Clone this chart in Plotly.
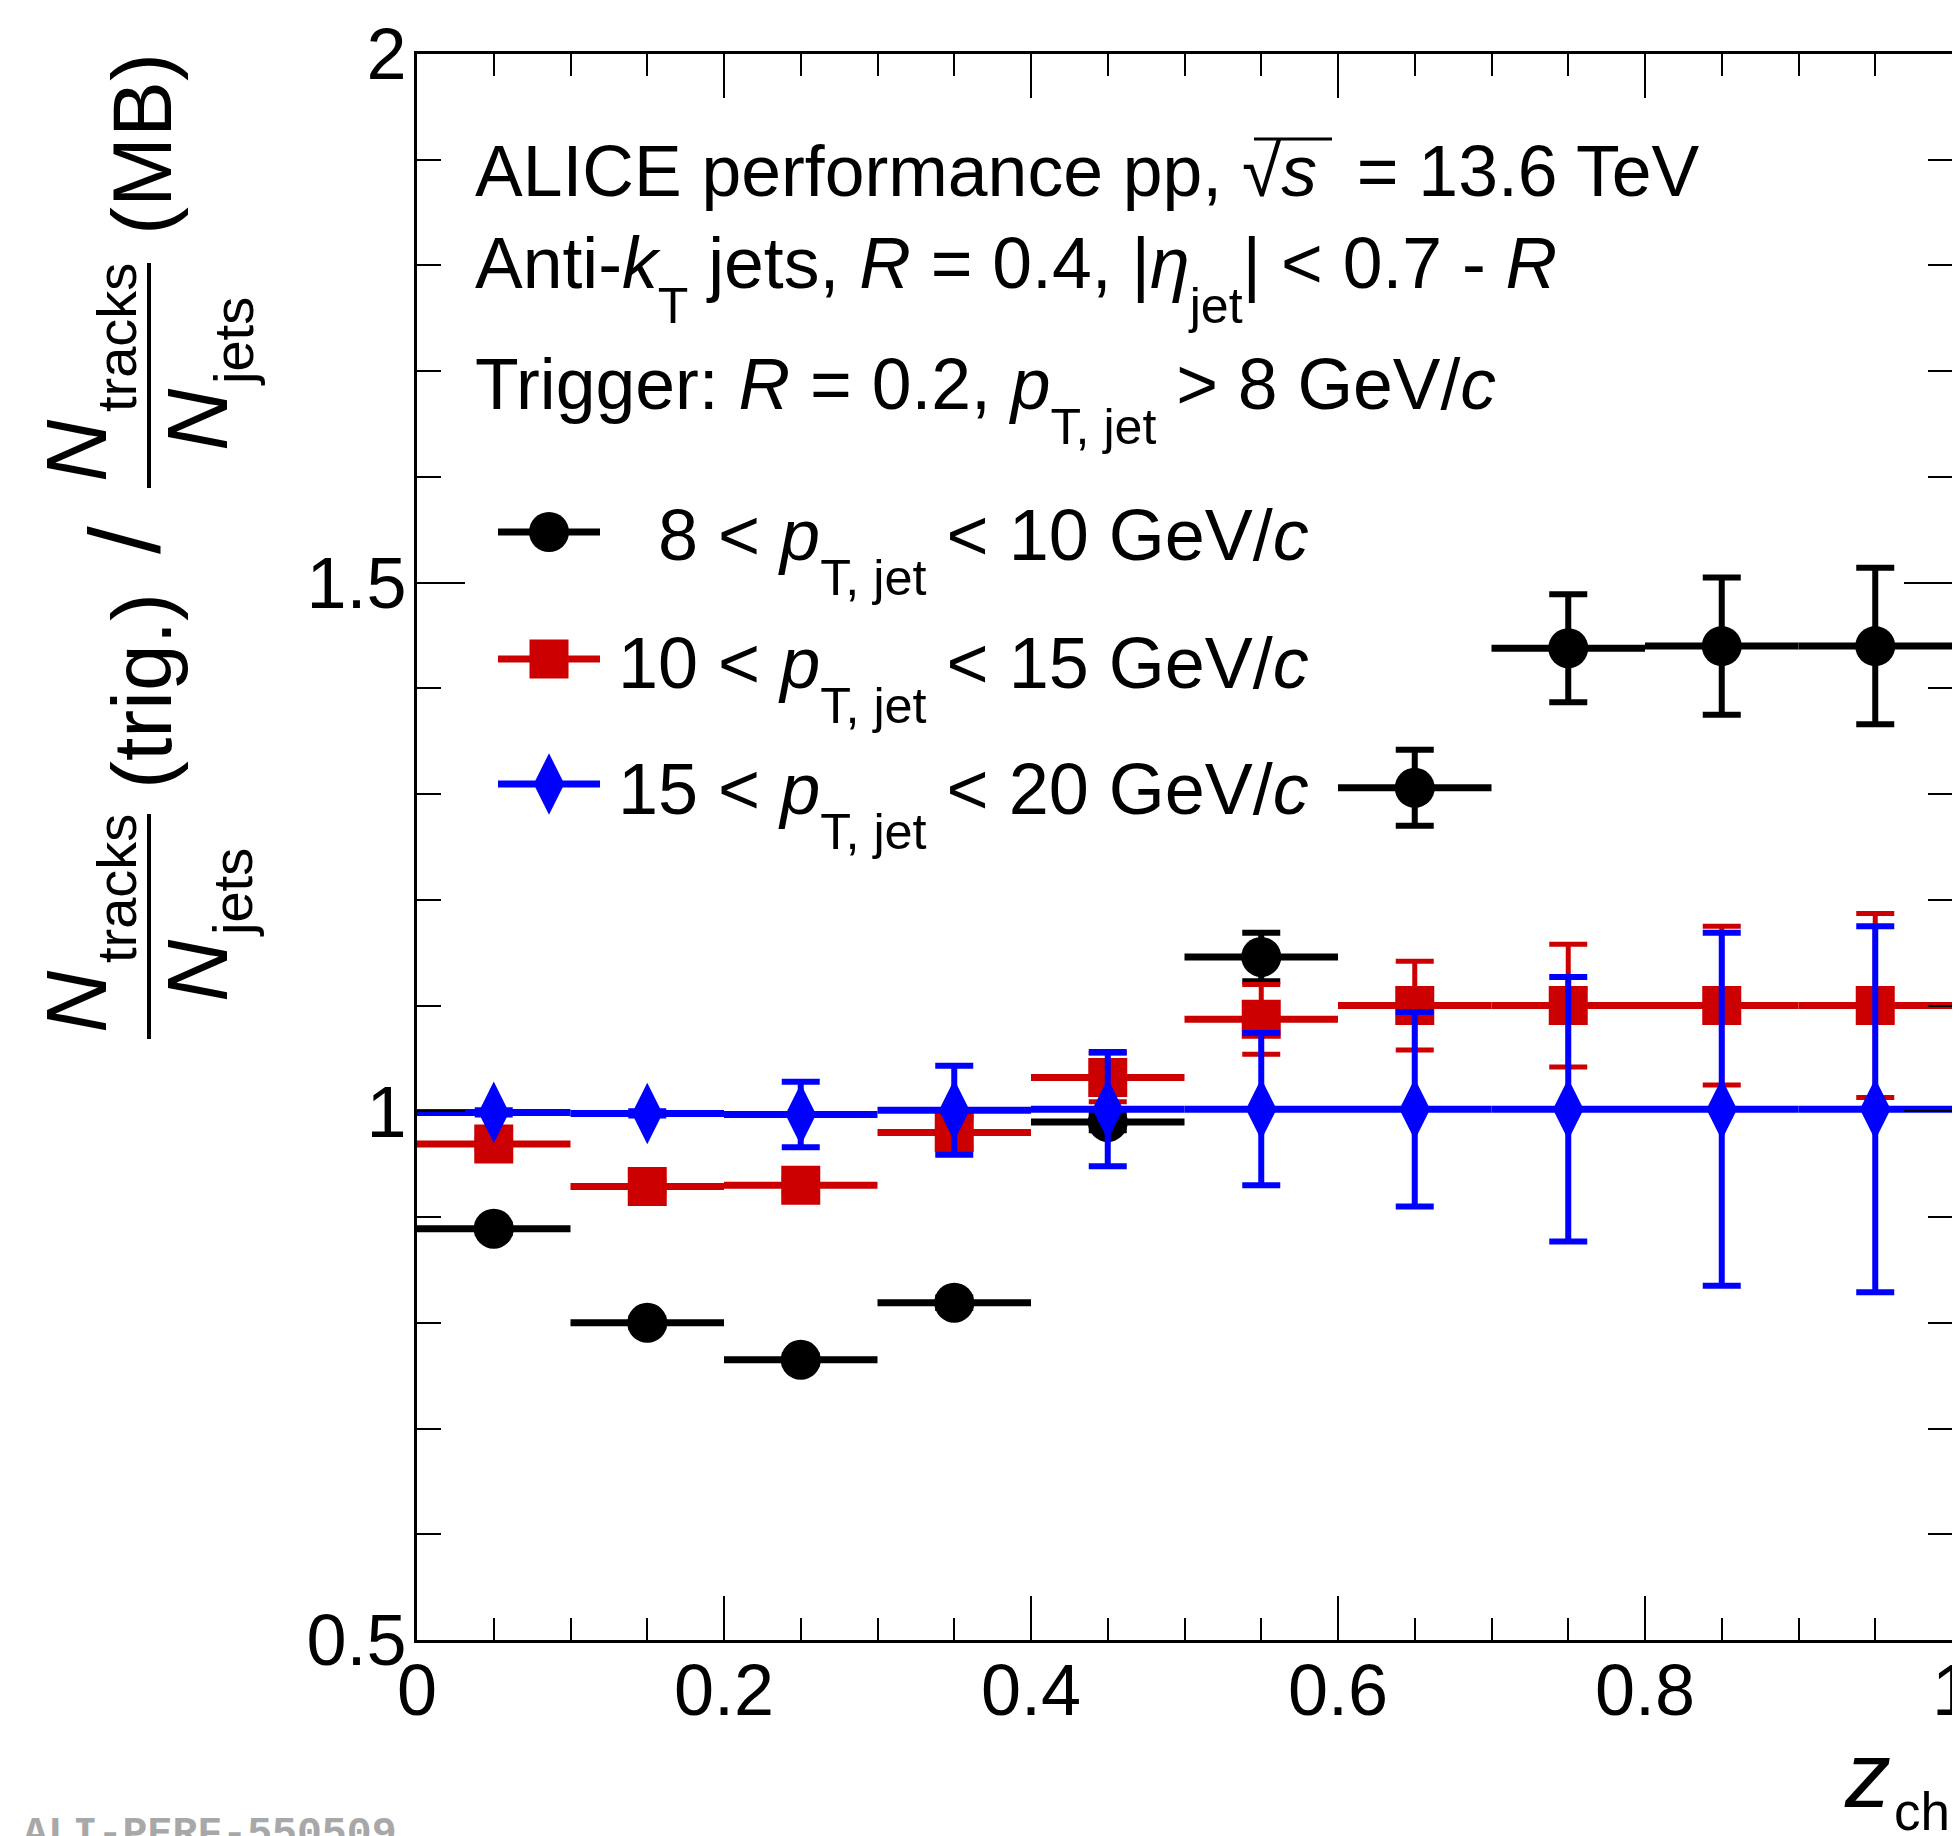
import plotly.graph_objects as go

# z_ch bins (centres and half widths)
z_center = [0.05, 0.15, 0.25, 0.35, 0.45, 0.55, 0.65, 0.75, 0.85, 0.95]
z_halfwidth = [0.05, 0.05, 0.05, 0.05, 0.05, 0.05, 0.05, 0.05, 0.05, 0.05]

# 8 < pT,jet < 10 GeV/c
ratio_8_10 = [0.889, 0.800, 0.765, 0.819, 0.990, 1.146, 1.306, 1.438, 1.440, 1.440]
err_8_10 = [0.004, 0.004, 0.004, 0.005, 0.008, 0.023, 0.036, 0.051, 0.065, 0.074]

# 10 < pT,jet < 15 GeV/c
ratio_10_15 = [0.969, 0.929, 0.930, 0.980, 1.032, 1.087, 1.100, 1.100, 1.100, 1.100]
err_10_15 = [0.005, 0.006, 0.007, 0.014, 0.023, 0.033, 0.042, 0.058, 0.075, 0.087]

# 15 < pT,jet < 20 GeV/c
ratio_15_20 = [0.999, 0.998, 0.997, 1.001, 1.002, 1.002, 1.002, 1.002, 1.002, 1.002]
err_15_20 = [0.002, 0.002, 0.031, 0.042, 0.054, 0.072, 0.092, 0.125, 0.167, 0.173]

x_ticks = [0, 0.2, 0.4, 0.6, 0.8, 1]
x_ticklabels = ['0', '0.2', '0.4', '0.6', '0.8', '1']
y_ticks = [0.5, 1, 1.5, 2]
y_ticklabels = ['0.5', '1', '1.5', '2']

series = [
    ('8 < ', ' < 10 GeV/', ratio_8_10, err_8_10, 'black', 'circle', 40, 6),
    ('10 < ', ' < 15 GeV/', ratio_10_15, err_10_15, '#cc0000', 'square', 39, 5),
    ('15 < ', ' < 20 GeV/', ratio_15_20, err_15_20, '#0000ff', 'diamond-tall', 44, 6),
]

# the page body adds an 8 px margin, so the figure is 8 px smaller and
# every layout position below is given in window pixels
PAGE = 8
W, H = 1960 - PAGE, 1836 - PAGE
L, R, T, B = 417 - PAGE, 8, 54 - PAGE, 196
PW, PH = W - L - R, H - T - B
FONT = 'Liberation Sans'


def px(x):
    return (x - PAGE - L) / PW


def py(y):
    return (H - B - (y - PAGE)) / PH


def sub(t):
    return f"<sub><span style='baseline-shift:-0.4em'>{t}</span></sub>"


fig = go.Figure()

for lo, hi, vals, errs, color, symbol, size, thick in series:
    fig.add_trace(go.Scatter(
        x=z_center, y=vals, mode='markers',
        marker=dict(symbol=symbol, size=size, color=color, line=dict(width=0)),
        error_x=dict(type='data', array=z_halfwidth, color=color,
                     thickness=7, width=0),
        error_y=dict(type='data', array=errs, color=color,
                     thickness=thick, width=19),
        showlegend=False, cliponaxis=False,
    ))

# hand-made legend keys on an overlay axis in [0, 1]
key_rows = [py(532), py(659), py(784)]
for (lo, hi, vals, errs, color, symbol, size, thick), ky in zip(series, key_rows):
    fig.add_trace(go.Scatter(
        x=[px(498), px(600)], y=[ky, ky], mode='lines',
        line=dict(color=color, width=7), xaxis='x2', yaxis='y2',
        showlegend=False, hoverinfo='skip',
    ))
    fig.add_trace(go.Scatter(
        x=[px(549)], y=[ky], mode='markers',
        marker=dict(symbol=symbol, size=size, color=color, line=dict(width=0)),
        xaxis='x2', yaxis='y2', showlegend=False, hoverinfo='skip',
    ))

annotations = []


def text(s, x, y, size, xanchor='left', yanchor='top', angle=0, color='black',
         family=FONT):
    annotations.append(dict(
        text=s, x=px(x), y=py(y), xref='paper', yref='paper',
        xanchor=xanchor, yanchor=yanchor, textangle=angle, showarrow=False,
        font=dict(family=family, size=size, color=color), borderpad=0,
    ))


# header lines (top = baseline - 0.905 * size)
text('ALICE performance pp, √<i>s</i>\u00a0\u00a0= 13.6 TeV', 474, 195 - 65, 71.5)
text('Anti-<i>k</i>' + sub('T') + ' jets, <i>R</i> = 0.4, |<i>η</i>' + sub('jet')
     + '| < 0.7 - <i>R</i>', 474, 287 - 65, 71.5)
text('Trigger: <i>R</i> = 0.2, <i>p</i>' + sub('T, jet') + ' > 8 GeV/<i>c</i>',
     474, 408 - 65, 71.5)

# legend labels
for (lo, hi, *_), base in zip(series, [559, 687, 813]):
    text(lo + '<i>p</i>' + sub('T, jet') + hi + '<i>c</i>', 1310, base - 65, 72,
         xanchor='right')

# y-axis title, built from rotated pieces
for c in (375, 926):
    text('<i>N</i>', 76, c + 76, 86, 'center', 'middle', -90)
    text('tracks', 116, c - 37, 56, 'center', 'middle', -90)
    text('<i>N</i>', 197, c + 45, 86, 'center', 'middle', -90)
    text('jets', 233, c - 33, 56, 'center', 'middle', -90)
text('(MB)', 142, 144, 84, 'center', 'middle', -90)
text('(trig.)', 142, 691, 84, 'center', 'middle', -90)
text('/', 125, 540, 100, 'center', 'middle', -90)

# x-axis title
text('<i>z</i>', 1843, 1806 - 83, 92)
text('ch', 1893, 1828 - 47, 53)

# watermark (cut by the bottom edge, as in the original)
text('<b>ALI-PERF-550509</b>', 22, 1809, 41.5, color='#a8a8a8',
     family='Liberation Mono')

shapes = [
    dict(type='line', xref='paper', yref='paper', x0=px(149), x1=px(149),
         y0=py(263), y1=py(488), line=dict(color='black', width=4)),
    dict(type='line', xref='paper', yref='paper', x0=px(149), x1=px(149),
         y0=py(814), y1=py(1039), line=dict(color='black', width=4)),
    # sqrt overline
    dict(type='line', xref='paper', yref='paper', x0=px(1254), x1=px(1332),
         y0=py(139), y1=py(139), line=dict(color='black', width=3)),
]

axis_common = dict(
    showline=True, linecolor='black', linewidth=3, mirror='ticks',
    ticks='inside', tickcolor='black', tickwidth=2, showgrid=False,
    zeroline=False, automargin=False, ticklabeloverflow='allow',
    tickfont=dict(family=FONT, size=72, color='black'),
)

fig.update_layout(
    width=W, height=H, autosize=False,
    margin=dict(l=L, r=R, t=T, b=B),
    paper_bgcolor='white', plot_bgcolor='white',
    xaxis=dict(range=[0, 1], tickvals=x_ticks, ticktext=x_ticklabels,
               ticklen=44, ticklabelstandoff=-14,
               minor=dict(dtick=0.05, tick0=0, ticklen=22, ticks='inside',
                          tickcolor='black', tickwidth=2),
               **axis_common),
    yaxis=dict(range=[0.5, 2], tickvals=y_ticks, ticktext=y_ticklabels,
               ticklen=48, ticklabelstandoff=-7,
               minor=dict(dtick=0.1, tick0=0.5, ticklen=24, ticks='inside',
                          tickcolor='black', tickwidth=2),
               **axis_common),
    xaxis2=dict(overlaying='x', range=[0, 1], visible=False),
    yaxis2=dict(overlaying='y', range=[0, 1], visible=False),
    annotations=annotations, shapes=shapes,
)

fig.write_html('out.html')
